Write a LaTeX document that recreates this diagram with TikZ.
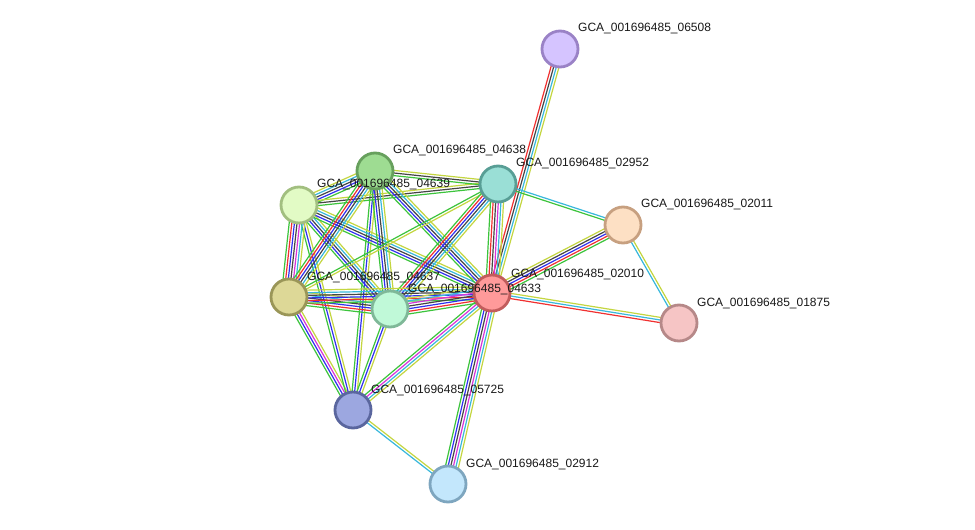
\documentclass[tikz,border=0pt]{standalone}
\usepackage{fontspec}
\setmainfont{Liberation Sans}
\usetikzlibrary{calc,backgrounds}
\pgfdeclarelayer{bottom}
\pgfsetlayers{bottom,background,main}
\definecolor{cG}{HTML}{3CC43C}
\definecolor{cR}{HTML}{F03030}
\definecolor{cB}{HTML}{3030F0}
\definecolor{cK}{HTML}{454545}
\definecolor{cM}{HTML}{D834D8}
\definecolor{cC}{HTML}{38B8DC}
\definecolor{cY}{HTML}{C4D640}
\definecolor{f06508}{HTML}{D5C4FF}\definecolor{d06508}{HTML}{9A82C6}
\definecolor{f04638}{HTML}{9EDC92}\definecolor{d04638}{HTML}{67A05D}
\definecolor{f02952}{HTML}{9ADFD6}\definecolor{d02952}{HTML}{589E95}
\definecolor{f04639}{HTML}{E2FBC5}\definecolor{d04639}{HTML}{A2BF80}
\definecolor{f02011}{HTML}{FDE0C4}\definecolor{d02011}{HTML}{C7A080}
\definecolor{f04637}{HTML}{DDD897}\definecolor{d04637}{HTML}{9A9658}
\definecolor{f02010}{HTML}{FF9A9A}\definecolor{d02010}{HTML}{C25C5C}
\definecolor{f04633}{HTML}{C0F9D8}\definecolor{d04633}{HTML}{7FB898}
\definecolor{f01875}{HTML}{F6C5C5}\definecolor{d01875}{HTML}{B68888}
\definecolor{f05725}{HTML}{9CA7E0}\definecolor{d05725}{HTML}{5A669E}
\definecolor{f02912}{HTML}{C3E7FC}\definecolor{d02912}{HTML}{7EA6BF}
\newcommand\bund[4]{%
  \foreach \cc [count=\i] in {#4}{%
    \pgfmathsetmacro\off{(\i-(#3+1)/2)*2.6}%
    \draw[\cc, line width=1.2pt] ($(#1.center)!\off pt!90:(#2.center)$) -- ($(#2.center)!\off pt!-90:(#1.center)$);
  }}
\tikzset{
  prot/.style={circle, minimum size=36pt, inner sep=0pt, line width=2.8pt, fill=f#1, draw=d#1},
  lab/.style={anchor=west, inner sep=0pt, font=\fontsize{12}{14}\selectfont, text=black!90}
}
\begin{document}
\begin{tikzpicture}[x=1pt,y=-1pt]
\begin{pgfonlayer}{bottom}
\fill[white] (0,0) rectangle (975,530);
\end{pgfonlayer}
\useasboundingbox (0,0) rectangle (975,530);
\node[prot=06508] (n06508) at (560,49) {};
\node[prot=04638] (n04638) at (375,171) {};
\node[prot=02952] (n02952) at (498,184) {};
\node[prot=04639] (n04639) at (299,205) {};
\node[prot=02011] (n02011) at (623,225) {};
\node[prot=04637] (n04637) at (289,297) {};
\node[prot=02010] (n02010) at (492,293) {};
\node[prot=04633] (n04633) at (390,309) {};
\node[prot=01875] (n01875) at (679,323) {};
\node[prot=05725] (n05725) at (353,410) {};
\node[prot=02912] (n02912) at (448,484) {};
\begin{scope}[on background layer]
\bund{n06508}{n02010}{4}{cR,cK,cC,cY}
\bund{n02952}{n02011}{2}{cG,cC}
\bund{n02010}{n02011}{5}{cG,cR,cB,cK,cY}
\bund{n02011}{n01875}{2}{cC,cY}
\bund{n02010}{n01875}{3}{cR,cC,cY}
\bund{n05725}{n02912}{2}{cC,cY}
\bund{n02010}{n02912}{6}{cG,cB,cK,cM,cC,cY}
\bund{n02010}{n05725}{4}{cG,cM,cC,cY}
\bund{n04637}{n05725}{4}{cG,cB,cM,cY}
\bund{n04639}{n05725}{3}{cG,cB,cY}
\bund{n04638}{n05725}{3}{cG,cB,cY}
\bund{n04633}{n05725}{3}{cG,cB,cY}
\bund{n04639}{n04638}{5}{cG,cB,cK,cC,cY}
\bund{n04639}{n02952}{3}{cG,cK,cY}
\bund{n04638}{n02952}{3}{cG,cK,cY}
\bund{n04639}{n04637}{7}{cG,cR,cB,cK,cM,cC,cY}
\bund{n04639}{n04633}{5}{cG,cB,cK,cC,cY}
\bund{n04639}{n02010}{5}{cG,cB,cK,cC,cY}
\bund{n04638}{n04637}{6}{cG,cR,cB,cK,cC,cY}
\bund{n04638}{n04633}{5}{cG,cB,cK,cC,cY}
\bund{n04638}{n02010}{5}{cG,cB,cK,cC,cY}
\bund{n02952}{n04637}{2}{cG,cY}
\bund{n02952}{n04633}{6}{cG,cR,cB,cK,cC,cY}
\bund{n02952}{n02010}{6}{cG,cR,cK,cM,cC,cY}
\bund{n04637}{n04633}{6}{cG,cR,cB,cK,cC,cY}
\bund{n04637}{n02010}{6}{cG,cR,cB,cK,cC,cY}
\bund{n04633}{n02010}{7}{cG,cR,cB,cK,cM,cC,cY}
\end{scope}
\node[lab] (l06508) at ($(n06508.center)+(18,-20)$) {GCA\_001696485\_06508};
\node[lab] (l04638) at ($(n04638.center)+(18,-20)$) {GCA\_001696485\_04638};
\node[lab] (l02952) at ($(n02952.center)+(18,-20)$) {GCA\_001696485\_02952};
\node[lab] (l04639) at ($(n04639.center)+(18,-20)$) {GCA\_001696485\_04639};
\node[lab] (l02011) at ($(n02011.center)+(18,-20)$) {GCA\_001696485\_02011};
\node[lab] (l04637) at ($(n04637.center)+(18,-20)$) {GCA\_001696485\_04637};
\node[lab] (l02010) at ($(n02010.center)+(19,-19)$) {GCA\_001696485\_02010};
\node[lab] (l04633) at ($(n04633.center)+(18,-20)$) {GCA\_001696485\_04633};
\node[lab] (l01875) at ($(n01875.center)+(18,-20)$) {GCA\_001696485\_01875};
\node[lab] (l05725) at ($(n05725.center)+(18,-20)$) {GCA\_001696485\_05725};
\node[lab] (l02912) at ($(n02912.center)+(18,-20)$) {GCA\_001696485\_02912};
\end{tikzpicture}
\end{document}
